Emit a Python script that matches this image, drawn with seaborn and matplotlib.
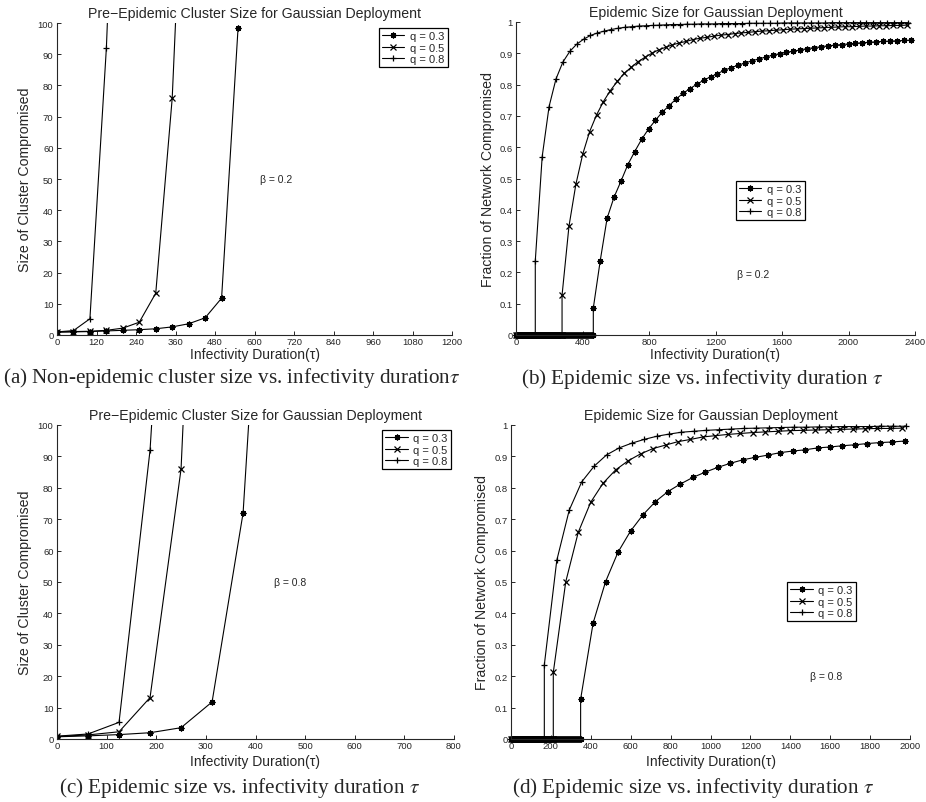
import numpy as np
import pandas as pd
import matplotlib
matplotlib.use("Agg")
import matplotlib.pyplot as plt
import seaborn as sns

# ---------------- data ----------------
series_labels = ["q = 0.3", "q = 0.5", "q = 0.8"]

# (a) beta = 0.2, pre-epidemic cluster size, tau step 50
a_step = 50
a_q03 = [0.9, 1.0, 1.1, 1.3, 1.5, 1.7, 2.0, 2.6, 3.6, 5.5, 11.8, 98.3]
a_q05 = [1.0, 1.1, 1.2, 1.5, 2.2, 4.1, 13.4, 75.9, 196.0]
a_q08 = [1.0, 1.4, 5.2, 92.0, 225.0]
a_xticks = [0, 120, 240, 360, 480, 600, 720, 840, 960, 1080, 1200]
a_yticks = [0, 10, 20, 30, 40, 50, 60, 70, 80, 90, 100]

# (c) beta = 0.8, pre-epidemic cluster size, tau step 62.5
c_step = 62.5
c_q03 = [0.7, 1.0, 1.4, 2.0, 3.6, 11.8, 72.0, 230.0]
c_q05 = [0.8, 1.3, 2.3, 13.2, 86.0, 306.0]
c_q08 = [0.9, 1.6, 5.3, 92.0, 250.0]
c_xticks = [0, 100, 200, 300, 400, 500, 600, 700, 800]
c_yticks = a_yticks

# (b) beta = 0.2, epidemic size; first non-zero tau per curve, step 41.5
b_step = 41.5
b_zero_step = 6
b_starts = [465, 277, 116]
b_q03 = [0.086, 0.237, 0.373, 0.440, 0.491, 0.544, 0.586, 0.625, 0.658, 0.686,
         0.712, 0.733, 0.754, 0.772, 0.787, 0.801, 0.814, 0.825, 0.835, 0.846,
         0.854, 0.862, 0.869, 0.876, 0.882, 0.888, 0.894, 0.899, 0.903, 0.907,
         0.911, 0.915, 0.918, 0.921, 0.924, 0.926, 0.928, 0.930, 0.932, 0.934,
         0.935, 0.937, 0.938, 0.939, 0.940, 0.941, 0.942]
b_q05 = [0.127, 0.347, 0.481, 0.578, 0.650, 0.703, 0.746, 0.781, 0.810, 0.836,
         0.855, 0.873, 0.887, 0.900, 0.911, 0.919, 0.927, 0.933, 0.938, 0.944,
         0.948, 0.951, 0.955, 0.958, 0.960, 0.963, 0.965, 0.967, 0.969, 0.971,
         0.972, 0.974, 0.975, 0.977, 0.978, 0.979, 0.980, 0.981, 0.982, 0.983,
         0.984, 0.985, 0.985, 0.986, 0.987, 0.987, 0.988, 0.988, 0.989, 0.989,
         0.990]
b_q08 = [0.237, 0.570, 0.730, 0.818, 0.872, 0.906, 0.929, 0.945, 0.957, 0.965,
         0.971, 0.976, 0.980, 0.983, 0.985, 0.987, 0.988, 0.989, 0.990, 0.991,
         0.992, 0.992, 0.993, 0.993, 0.994, 0.994, 0.994, 0.995, 0.995, 0.995,
         0.995, 0.996, 0.996, 0.996, 0.996, 0.996, 0.997, 0.997, 0.997, 0.997,
         0.997, 0.997, 0.997, 0.998, 0.998, 0.998, 0.998, 0.998, 0.998, 0.998,
         0.998, 0.998, 0.998, 0.998, 0.998]
b_xticks = [0, 400, 800, 1200, 1600, 2000, 2400]
frac_yticks = [0, 0.1, 0.2, 0.3, 0.4, 0.5, 0.6, 0.7, 0.8, 0.9, 1]

# (d) beta = 0.8, epidemic size; step 62.5
d_step = 62.5
d_zero_step = 5
d_starts = [349, 212, 167]
d_q03 = [0.127, 0.369, 0.501, 0.595, 0.662, 0.714, 0.756, 0.788, 0.812, 0.833,
         0.850, 0.865, 0.878, 0.889, 0.897, 0.904, 0.912, 0.917, 0.921, 0.927,
         0.930, 0.934, 0.937, 0.941, 0.944, 0.946, 0.949]
d_q05 = [0.212, 0.501, 0.658, 0.754, 0.815, 0.857, 0.886, 0.908, 0.925, 0.936,
         0.947, 0.954, 0.962, 0.966, 0.970, 0.973, 0.976, 0.978, 0.980, 0.982,
         0.983, 0.984, 0.985, 0.986, 0.987, 0.988, 0.989, 0.989, 0.990]
d_q08 = [0.236, 0.569, 0.729, 0.819, 0.869, 0.905, 0.927, 0.942, 0.954, 0.964,
         0.971, 0.977, 0.980, 0.983, 0.985, 0.987, 0.989, 0.990, 0.991, 0.992,
         0.993, 0.993, 0.994, 0.994, 0.995, 0.995, 0.995, 0.996, 0.996, 0.996]
d_xticks = [0, 200, 400, 600, 800, 1000, 1200, 1400, 1600, 1800, 2000]

titles = ["Pre\u2212Epidemic Cluster Size for Gaussian Deployment",
          "Epidemic Size for Gaussian Deployment",
          "Pre\u2212Epidemic Cluster Size for Gaussian Deployment",
          "Epidemic Size for Gaussian Deployment"]
ylabels = ["Size of Cluster Compromised", "Fraction of Network Compromised",
           "Size of Cluster Compromised", "Fraction of Network Compromised"]
xlabel = "Infectivity Duration(\u03c4)"
betas = ["\u03b2 = 0.2", "\u03b2 = 0.2", "\u03b2 = 0.8", "\u03b2 = 0.8"]
captions = ["(a) Non-epidemic cluster size vs. infectivity duration$\\tau$",
            "(b) Epidemic size vs. infectivity duration $\\tau$",
            "(c) Epidemic size vs. infectivity duration $\\tau$",
            "(d) Epidemic size vs. infectivity duration $\\tau$"]


def build_cluster(curves, step):
    rows = []
    for lab, vals in zip(series_labels, curves):
        for i, v in enumerate(vals):
            rows.append((i * step, v, lab))
    return pd.DataFrame(rows, columns=["tau", "value", "q"])


def build_epidemic(curves, starts, step, zstep):
    rows = []
    for lab, vals, st in zip(series_labels, curves, starts):
        zx = list(np.arange(0, st, zstep)) + [st]
        for x in zx:
            rows.append((x, 0.0, lab))
        for i, v in enumerate(vals):
            rows.append((st + i * step, v, lab))
    return pd.DataFrame(rows, columns=["tau", "value", "q"])


dfs = [build_cluster([a_q03, a_q05, a_q08], a_step),
       build_epidemic([b_q03, b_q05, b_q08], b_starts, b_step, b_zero_step),
       build_cluster([c_q03, c_q05, c_q08], c_step),
       build_epidemic([d_q03, d_q05, d_q08], d_starts, d_step, d_zero_step)]

# ---------------- style ----------------
sns.set_style("ticks")
plt.rcParams["font.family"] = ["Liberation Sans", "DejaVu Sans"]
plt.rcParams["mathtext.fontset"] = "stix"

W, H = 926, 803
fig = plt.figure(figsize=(W / 100, H / 100), dpi=100)

# axes boxes in pixels: left, right, top, bottom
boxes = [(57, 452, 24, 336), (516, 915, 23, 336),
         (57, 454, 426, 740), (511, 910, 426, 740)]
xlims = [(0, 1200), (0, 2400), (0, 800), (0, 2000)]
ylims = [(0, 100), (0, 1), (0, 100), (0, 1)]
xticks_all = [a_xticks, b_xticks, c_xticks, d_xticks]
yticks_all = [a_yticks, frac_yticks, c_yticks, frac_yticks]
legend_pos = [(0.815, 0.984), (0.551, 0.492), (0.819, 0.984), (0.692, 0.50)]
beta_pos = [(617, 50), (1329, 0.195), (437, 50), (1499, 0.2)]
ylab_x = [-0.080, -0.070, -0.080, -0.072]
xlab_px = [355, 355, 762, 762]   # centre y of the x label, pixels
cap_pos = [(232, 378), (702, 379), (240, 788), (693, 788)]

markers = {"q = 0.3": (8, 2, 0), "q = 0.5": "x", "q = 0.8": "+"}
palette = {lab: "black" for lab in series_labels}

for k in range(4):
    l, r, t, b = boxes[k]
    ax = fig.add_axes([l / W, 1 - b / H, (r - l) / W, (b - t) / H])
    sns.lineplot(data=dfs[k], x="tau", y="value", hue="q", style="q",
                 hue_order=series_labels, style_order=series_labels,
                 markers=markers, dashes=False, palette=palette,
                 estimator=None, sort=False, ax=ax,
                 linewidth=0.8, markersize=4.2, markeredgewidth=0.9,
                 markeredgecolor="black", markerfacecolor="black")
    if k in (1, 3):
        for ln in ax.lines:
            ln.set_clip_on(False)
    ax.set_xlim(*xlims[k])
    ax.set_ylim(*ylims[k])
    ax.set_xticks(xticks_all[k])
    ax.set_yticks(yticks_all[k])
    ax.set_xticklabels(["%g" % v for v in xticks_all[k]])
    ax.set_yticklabels(["%g" % v for v in yticks_all[k]])
    ax.tick_params(direction="in", length=3, width=0.7, labelsize=6.8, pad=2.5)
    ax.tick_params(axis="x", pad=1.8)
    sns.despine(ax=ax)
    for s in ("left", "bottom"):
        ax.spines[s].set_linewidth(0.8)
    ax.set_title(titles[k], fontsize=10.2, pad=4)
    ax.set_xlabel(xlabel, fontsize=10, va="center")
    ax.xaxis.set_label_coords(0.5, -(xlab_px[k] - b) / (b - t))
    ax.set_ylabel(ylabels[k], fontsize=10.2, va="center")
    ax.yaxis.set_label_coords(ylab_x[k], 0.5)
    ax.text(beta_pos[k][0], beta_pos[k][1], betas[k], fontsize=7.5,
            ha="left", va="center")
    h, lbl = ax.get_legend_handles_labels()
    leg = ax.legend(h, lbl, loc="upper left", bbox_to_anchor=legend_pos[k],
                    borderaxespad=0, frameon=True, fancybox=False,
                    edgecolor="black", framealpha=1, fontsize=8,
                    handlelength=2.0, handletextpad=0.5, labelspacing=0.12,
                    borderpad=0.3)
    leg.get_frame().set_linewidth(0.9)
    fig.text(cap_pos[k][0] / W, 1 - cap_pos[k][1] / H, captions[k],
             family="Liberation Serif", fontsize=15.2, ha="center", va="center")

fig.savefig("out.png", dpi=100)
